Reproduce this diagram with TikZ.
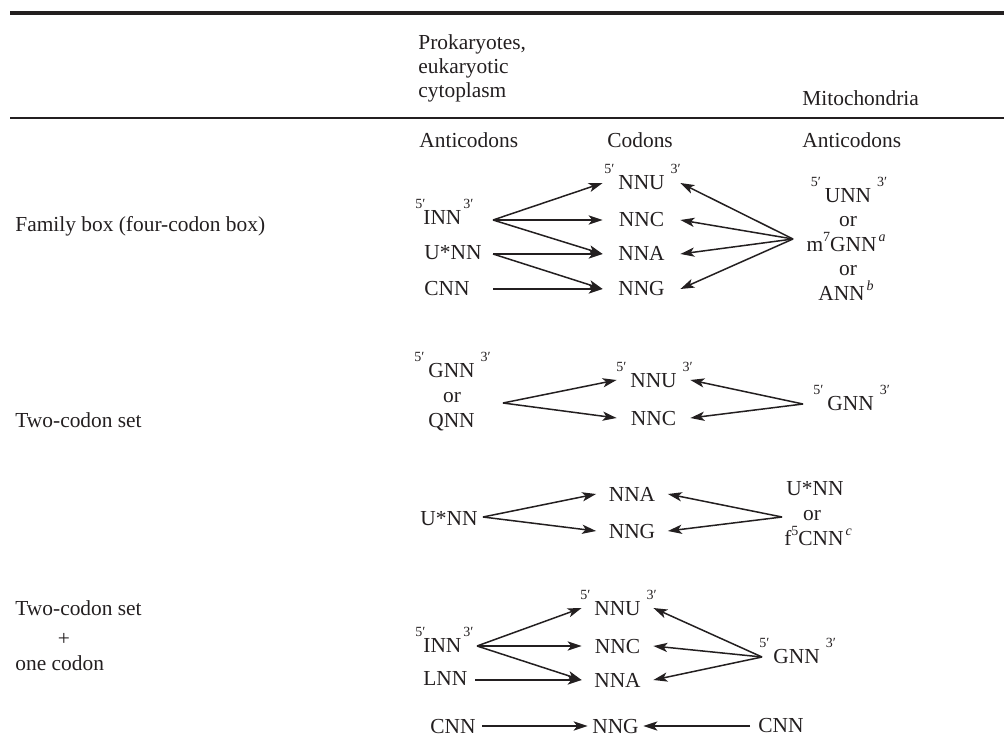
\documentclass[tikz,border=0pt]{standalone}
\usepackage{fontspec}
\setmainfont{Liberation Serif}
\usetikzlibrary{arrows.meta}
\definecolor{ink}{HTML}{231F20}
\newcommand\spr[1]{{\fontsize{7pt}{7pt}\selectfont #1}}
\newcommand\lft[2][2pt]{\llap{\raisebox{8pt}{\spr{#2}}\kern#1}}
\newcommand\rgt[2][3pt]{\rlap{\kern#1\raisebox{8pt}{\spr{#2}}}}
\newcommand\upsup[1]{\raisebox{5pt}{\spr{#1}}}
\begin{document}
\begin{tikzpicture}[x=0.5pt,y=-0.5pt,
  every node/.style={inner sep=0pt, text=ink, font=\fontsize{10.7pt}{12.25pt}\selectfont},
  txt/.style={anchor=base west},
  ctr/.style={anchor=base},
  codon/.style={anchor=base, text height=7pt, text depth=0pt, align=center},
  arr/.style={draw=ink, line width=0.75pt, -{Stealth[length=7pt,width=4.6pt,inset=1.8pt]}}]
\useasboundingbox (0,0) rectangle (1004,742);
% rules
\draw[ink, line width=2pt] (10,13) -- (1004,13);
\draw[ink, line width=1pt] (10,118) -- (1004,118);
% header
\node[txt] (prok1) at (418,50) {Prokaryotes,};
\node[txt] (prok2) at (418,74) {eukaryotic};
\node[txt] (prok3) at (418,98) {cytoplasm};
\node[txt] (mito) at (802,106) {Mitochondria};
\node[txt] (hant1) at (419,148) {Anticodons};
\node[txt] (hcod) at (607,148) {Codons};
\node[txt] (hant2) at (802,148) {Anticodons};
% row labels
\node[txt] (fam) at (15,232) {Family box (four-codon box)};
\node[txt] (two1) at (15,427) {Two-codon set};
\node[txt] (two2) at (15,615) {Two-codon set};
\node[ctr] (plus) at (64,645) {+};
\node[txt] (one) at (15,670) {one codon};

% ---------- block 1 ----------
\node[codon, minimum width=38.5pt] (nnu1) at (641.5,190) {\lft{5′}NNU\rgt{3′}};
\node[codon, minimum width=38.5pt] (nnc1) at (641.5,227) {NNC};
\node[codon, minimum width=38.5pt] (nna1) at (641.5,261) {NNA};
\node[codon, minimum width=38.5pt] (nng1) at (641.5,296) {NNG};
\node[txt] (inn1) at (423,225) {\lft[-1pt]{5′}INN\rgt[1pt]{3′}};
\node[txt] (usnn1) at (424,260) {U*NN};
\node[txt] (cnn1) at (424,296) {CNN};
\node[ctr] (unn1) at (848,203) {\lft{5′}UNN\rgt{3′}};
\node[ctr] (or1a) at (848,227) {or};
\node[ctr] (mgnn1) at (846,252) {m\upsup{7}GNN\kern1pt\upsup{\itshape a}};
\node[ctr] (or1b) at (848,276) {or};
\node[ctr] (ann1) at (846,301) {ANN\kern1pt\upsup{\itshape b}};
\coordinate (a1i) at (493,220);
\coordinate (a1u) at (493,254);
\coordinate (a1c) at (493,289);
\coordinate (m1) at (793,239);
\draw[arr] (a1i) -- (nnu1.west);
\draw[arr] (a1i) -- (nnc1.west);
\draw[arr] (a1i) -- (nna1.west);
\draw[arr] (a1u) -- (nna1.west);
\draw[arr] (a1u) -- (nng1.west);
\draw[arr] (a1c) -- (nng1.west);
\draw[arr] (m1) -- (nnu1.east);
\draw[arr] (m1) -- (nnc1.east);
\draw[arr] (m1) -- (nna1.east);
\draw[arr] (m1) -- (nng1.east);

% ---------- block 2 ----------
\node[codon, minimum width=36.5pt] (nnu2) at (653.5,387) {\lft{5′}NNU\rgt{3′}};
\node[codon, minimum width=36.5pt] (nnc2) at (653.5,425) {NNC};
\node[ctr] (gnn2) at (451.5,378) {\lft{5′}GNN\rgt{3′}};
\node[ctr] (or2) at (452,402) {or};
\node[ctr] (qnn2) at (451.5,427) {QNN};
\node[txt] (gnn2r) at (827,410) {\lft{5′}GNN\rgt[3pt]{3′}};
\coordinate (a2) at (503,403);
\coordinate (m2) at (803,404);
\draw[arr] (a2) -- (nnu2.west);
\draw[arr] (a2) -- (nnc2.west);
\draw[arr] (m2) -- (nnu2.east);
\draw[arr] (m2) -- (nnc2.east);

% ---------- block 3 ----------
\node[codon, minimum width=35.5pt] (nna3) at (632,501) {NNA};
\node[codon, minimum width=35.5pt] (nng3) at (632,538) {NNG};
\node[txt] (usnn3) at (420,525) {U*NN};
\node[ctr] (usnn3r) at (815,495) {U*NN};
\node[ctr] (or3) at (812,520) {or};
\node[ctr] (fcnn3) at (818,545) {f\upsup{5}CNN\kern1pt\upsup{\itshape c}};
\coordinate (a3) at (483,517);
\coordinate (m3) at (782,517);
\draw[arr] (a3) -- (nna3.west);
\draw[arr] (a3) -- (nng3.west);
\draw[arr] (m3) -- (nna3.east);
\draw[arr] (m3) -- (nng3.east);

% ---------- block 4 ----------
\node[codon, minimum width=35.5pt] (nnu4) at (617.5,615) {\lft{5′}NNU\rgt{3′}};
\node[codon, minimum width=35.5pt] (nnc4) at (617.5,653) {NNC};
\node[codon, minimum width=35.5pt] (nna4) at (617.5,687) {NNA};
\node[codon, minimum width=27.5pt] (nng4) at (615.5,733) {NNG};
\node[txt] (inn4) at (423,652) {\lft[-1pt]{5′}INN\rgt[1pt]{3′}};
\node[txt] (lnn4) at (423,685) {LNN};
\node[txt] (cnn4) at (430,733) {CNN};
\node[txt] (gnn4r) at (773,663) {\lft{5′}GNN\rgt[3pt]{3′}};
\node[txt] (cnn4r) at (758,732) {CNN};
\coordinate (a4i) at (477,646);
\coordinate (a4l) at (475,680);
\coordinate (a4c) at (482,726);
\coordinate (m4) at (762,657);
\coordinate (m4c) at (750,726);
\draw[arr] (a4i) -- (nnu4.west);
\draw[arr] (a4i) -- (nnc4.west);
\draw[arr] (a4i) -- (nna4.west);
\draw[arr] (a4l) -- (nna4.west);
\draw[arr] (a4c) -- (nng4.west);
\draw[arr] (m4) -- (nnu4.east);
\draw[arr] (m4) -- (nnc4.east);
\draw[arr] (m4) -- (nna4.east);
\draw[arr] (m4c) -- (nng4.east);
\end{tikzpicture}
\end{document}
